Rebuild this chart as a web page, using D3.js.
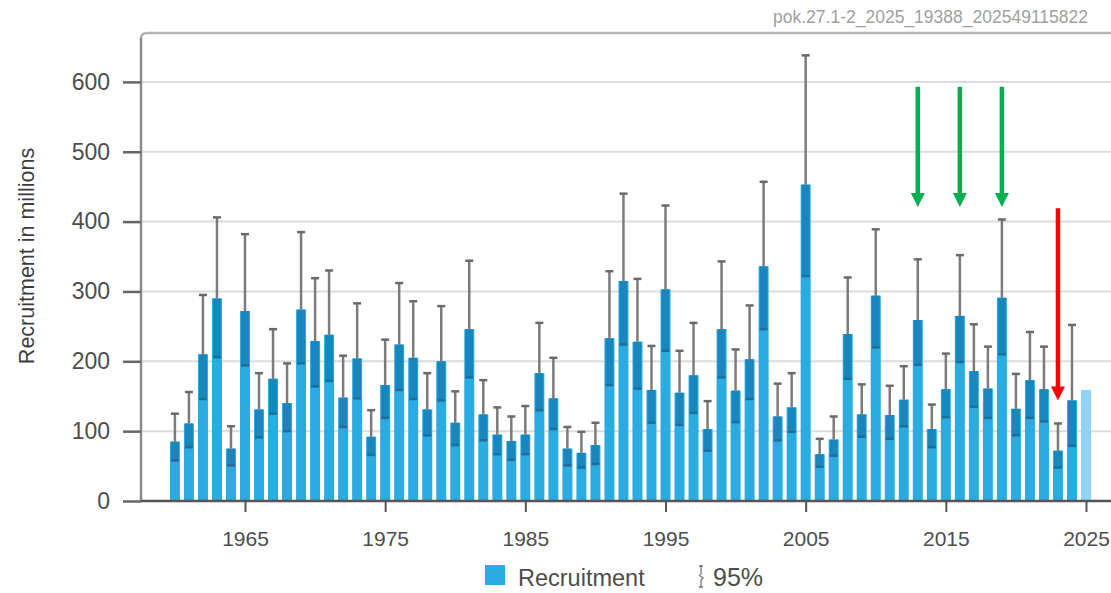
<!DOCTYPE html>
<html>
<head>
<meta charset="utf-8">
<script src="https://cdn.jsdelivr.net/npm/d3@7"></script>
<style>
  html, body { margin: 0; padding: 0; background: #fff; }
  svg { display: block; font-family: "Liberation Sans", Arial, Helvetica, sans-serif; }
</style>
</head>
<body>
<svg id="chart" width="1111" height="593"></svg>
<script>
// ---------------- data ----------------
const years = d3.range(1960, 2026);
const recruitment = [
  85,111,210,290,75,272,131,175,140,274,
  229,238,148,204,92,166,224,205,131,200,
  112,246,124,95,86,95,183,147,75,69,
  80,233,315,228,159,303,155,180,103,246,
  158,203,336,121,134,453,67,88,239,124,
  294,123,145,259,103,160,265,186,161,291,
  132,173,160,72,144,159
];
const upper95 = [
  125,156,295,406,107,382,183,246,197,385,
  319,330,208,283,130,231,312,286,183,279,
  157,344,173,134,121,136,255,205,106,99,
  112,329,440,318,222,423,215,255,143,343,
  217,280,457,168,183,638,89,121,320,167,
  389,165,193,346,138,211,352,253,221,403,
  182,242,221,111,252,null
];
const lower95 = [
  58,77,146,206,51,194,91,125,100,197,
  164,172,106,147,66,119,159,146,94,144,
  80,177,87,67,59,67,130,103,51,48,
  53,166,224,161,112,215,109,126,72,177,
  113,146,246,87,99,322,49,65,175,92,
  220,89,107,195,77,120,199,135,119,210,
  94,119,114,48,79,null
];
const yTicks = [0, 100, 200, 300, 400, 500, 600];
const xTicks = [1965, 1975, 1985, 1995, 2005, 2015, 2025];
const yTitle = "Recruitment in millions";
const legendLabels = ["Recruitment", "95%"];
const stockCode = "pok.27.1-2_2025_19388_202549115822";
// annotation arrows: year, from value, to value, colour
const arrowYears = [2013, 2016, 2019, 2023];
const arrowFrom  = [593, 593, 593, 419];
const arrowTo    = [421, 421, 421, 144];
const arrowColors = ["#00b050", "#00b050", "#00b050", "#ff0000"];

// ---------------- layout ----------------
const svg = d3.select("#chart");
const plotLeft = 141, plotTop = 33, plotBottom = 501, plotRight = 1111;

const x = d3.scaleLinear().domain([1965, 2025]).range([245, 1086]);
const y = d3.scaleLinear().domain([0, 670]).range([plotBottom, plotTop]);

const barW = 10, bandW = 8, capW = 8;
const cBar = "#2aace3", cBarLast = "#8fd4f2", cBand = "#1986bd", cWhisk = "#7b7b7b";

// gridlines
svg.append("g").selectAll("line")
  .data(yTicks.filter(d => d > 0))
  .join("line")
  .attr("x1", plotLeft).attr("x2", plotRight)
  .attr("y1", d => y(d)).attr("y2", d => y(d))
  .attr("stroke", "#dcdcdc").attr("stroke-width", 2);

// frame top line with rounded corner
svg.append("path")
  .attr("d", `M${plotLeft},${plotTop + 6} Q${plotLeft},${plotTop} ${plotLeft + 6},${plotTop} L${plotRight},${plotTop}`)
  .attr("fill", "none")
  .attr("stroke", "#b4b4b4").attr("stroke-width", 2.5);

// stock code text
svg.append("text")
  .attr("x", 1088).attr("y", 23)
  .attr("text-anchor", "end")
  .attr("font-size", 17.5)
  .attr("fill", "#a0a0a0")
  .text(stockCode);

const data = years.map((yr, i) => ({ yr, v: recruitment[i], hi: upper95[i], lo: lower95[i] }));

// bars
svg.append("g").selectAll("rect")
  .data(data)
  .join("rect")
  .attr("x", d => x(d.yr) - barW / 2)
  .attr("width", barW)
  .attr("y", d => y(d.v))
  .attr("height", d => y(0) - y(d.v))
  .attr("fill", d => d.hi == null ? cBarLast : cBar);

const ci = data.filter(d => d.hi != null);

// dark band (lower CI to estimate)
svg.append("g").selectAll("rect")
  .data(ci)
  .join("rect")
  .attr("x", d => x(d.yr) - bandW / 2)
  .attr("width", bandW)
  .attr("y", d => y(d.v))
  .attr("height", d => y(d.lo) - y(d.v))
  .attr("fill", cBand);

// whisker above estimate
svg.append("g").selectAll("line")
  .data(ci)
  .join("line")
  .attr("x1", d => x(d.yr)).attr("x2", d => x(d.yr))
  .attr("y1", d => y(d.hi)).attr("y2", d => y(d.v))
  .attr("stroke", cWhisk).attr("stroke-width", 2.5);

// caps
const caps = svg.append("g");
caps.selectAll("line.top")
  .data(ci)
  .join("line").attr("class", "top")
  .attr("x1", d => x(d.yr) - capW / 2).attr("x2", d => x(d.yr) + capW / 2)
  .attr("y1", d => y(d.hi)).attr("y2", d => y(d.hi))
  .attr("stroke", "#6a6a6a").attr("stroke-width", 2.5);
caps.selectAll("line.bot")
  .data(ci)
  .join("line").attr("class", "bot")
  .attr("x1", d => x(d.yr) - capW / 2).attr("x2", d => x(d.yr) + capW / 2)
  .attr("y1", d => y(d.lo)).attr("y2", d => y(d.lo))
  .attr("stroke", "#1d6f99").attr("stroke-width", 2.5);

// left axis line
svg.append("line")
  .attr("x1", plotLeft).attr("x2", plotLeft)
  .attr("y1", plotTop + 5).attr("y2", plotBottom)
  .attr("stroke", "#8a8a8a").attr("stroke-width", 2.5);

// y axis
const yAxis = svg.append("g")
  .attr("transform", `translate(${plotLeft},0)`)
  .call(d3.axisLeft(y).tickValues(yTicks).tickSize(18).tickPadding(13));
yAxis.select(".domain").remove();
yAxis.selectAll(".tick line").attr("stroke", "#666").attr("stroke-width", 2.5);
yAxis.selectAll(".tick text")
  .attr("fill", "#4d4d4d").attr("font-size", 23)
  .attr("font-family", "'Liberation Sans', Arial, sans-serif");

// x axis
const xAxis = svg.append("g")
  .attr("transform", `translate(0,${plotBottom})`)
  .call(d3.axisBottom(x).tickValues(xTicks).tickFormat(d3.format("d")).tickSize(11).tickPadding(19));
xAxis.select(".domain").remove();
xAxis.selectAll(".tick line").attr("stroke", "#555").attr("stroke-width", 2);
xAxis.selectAll(".tick text")
  .attr("fill", "#4d4d4d").attr("font-size", 21)
  .attr("font-family", "'Liberation Sans', Arial, sans-serif");

// bottom axis line
svg.append("line")
  .attr("x1", plotLeft).attr("x2", plotRight)
  .attr("y1", plotBottom).attr("y2", plotBottom)
  .attr("stroke", "#555").attr("stroke-width", 2.5);

// y title
svg.append("text")
  .attr("transform", "translate(34,256) rotate(-90)")
  .attr("text-anchor", "middle")
  .attr("font-size", 21.5)
  .attr("fill", "#3d3d3d")
  .text(yTitle);

// legend
const lg = svg.append("g");
lg.append("rect").attr("x", 485).attr("y", 565).attr("width", 20).attr("height", 20).attr("fill", cBar);
lg.append("text").attr("x", 518).attr("y", 586).attr("font-size", 23.5).attr("fill", "#4d4d4d").text(legendLabels[0]);
lg.append("path")
  .attr("d", "M701,565 L701,575 M699,575 L703,578 L701,580 L701,588 M699,566 L703,566 M699,587 L703,587")
  .attr("stroke", "#777").attr("stroke-width", 1.3).attr("fill", "none");
lg.append("text").attr("x", 713).attr("y", 586).attr("font-size", 25).attr("fill", "#4d4d4d").text(legendLabels[1]);

// annotation arrows
const headW = 14, headH = 14, shaftW = 4.5;
arrowYears.forEach((yr, i) => {
  const ax = x(yr), y0 = y(arrowFrom[i]), y1 = y(arrowTo[i]);
  svg.append("line")
    .attr("x1", ax).attr("x2", ax)
    .attr("y1", y0).attr("y2", y1 - headH + 1)
    .attr("stroke", arrowColors[i]).attr("stroke-width", shaftW);
  svg.append("path")
    .attr("d", `M${ax - headW / 2},${y1 - headH} L${ax + headW / 2},${y1 - headH} L${ax},${y1} Z`)
    .attr("fill", arrowColors[i]);
});
</script>
</body>
</html>
